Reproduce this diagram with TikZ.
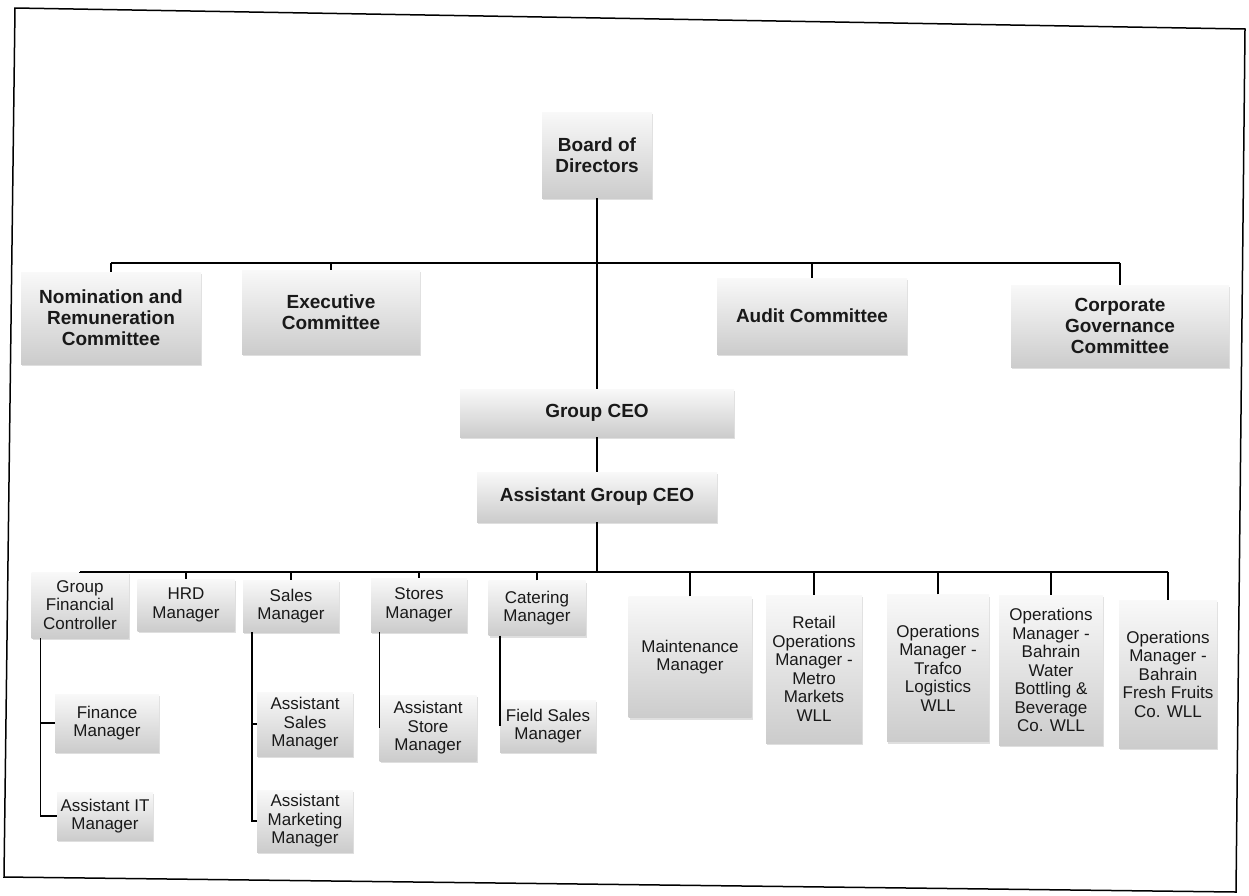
\documentclass[tikz,border=0pt]{standalone}
\usepackage{fontspec}
\setmainfont{Liberation Sans}
\usetikzlibrary{shadows, positioning}

\begin{document}
\begin{tikzpicture}[x=1pt, y=-1pt,
  box/.style={top color=gray!5, bottom color=gray!40, align=center, inner sep=2pt, text=black!90,
    drop shadow={opacity=0.25, shadow xshift=1pt, shadow yshift=-2pt}},
  bigbox/.style={box, font=\fontsize{19}{21}\selectfont\bfseries},
  smallbox/.style={box, font=\fontsize{17}{18.5}\selectfont},
  link/.style={line width=1.4pt},
  bus/.style={line width=2pt}]
\useasboundingbox (0,0) rectangle (1249,895);
\draw[line width=1.5pt] (15,8) -- (1245,29) -- (1236,892) -- (4,877) -- cycle;

% board and committees
\node[bigbox, minimum width=110, minimum height=86] (bod) at (597,155) {Board of\\Directors};
\node[bigbox, minimum width=180, minimum height=92] (nrc) at (111,318) {Nomination and\\Remuneration\\Committee};
\node[bigbox, minimum width=178, minimum height=84] (exc) at (331,312) {Executive\\Committee};
\node[bigbox, minimum width=190, minimum height=76] (aud) at (812,316) {Audit Committee};
\node[bigbox, minimum width=218, minimum height=82] (cgc) at (1120,326) {Corporate\\Governance\\Committee};
\node[bigbox, minimum width=274, minimum height=48] (ceo) at (597,413) {Group CEO};
\node[bigbox, minimum width=240, minimum height=50] (agc) at (597,497) {Assistant Group CEO};
\coordinate (top) at (597,263);
\coordinate (low) at (597,572);

% managers
\node[smallbox, minimum width=97, minimum height=66] (gfc) at (80,605) {Group\\Financial\\Controller};
\node[smallbox, minimum width=97, minimum height=52] (hrd) at (186,605) {HRD\\Manager};
\node[smallbox, minimum width=96, minimum height=52] (sal) at (291,606) {Sales\\Manager};
\node[smallbox, minimum width=96, minimum height=54] (sto) at (419,605) {Stores\\Manager};
\node[smallbox, minimum width=97, minimum height=55] (cat) at (537,608) {Catering\\Manager};
\node[smallbox, minimum width=123, minimum height=121] (mnt) at (690,657) {Maintenance\\Manager};
\node[smallbox, minimum width=96, minimum height=148] (ret) at (814,669) {Retail\\Operations\\Manager -\\Metro\\Markets\\WLL};
\node[smallbox, minimum width=102, minimum height=147] (trf) at (938,668) {Operations\\Manager -\\Trafco\\Logistics\\WLL};
\node[smallbox, minimum width=104, minimum height=150] (bwb) at (1051,670) {Operations\\Manager -\\Bahrain\\Water\\Bottling \&\\Beverage\\Co. WLL};
\node[smallbox, minimum width=98, minimum height=148] (bff) at (1168,674) {Operations\\Manager -\\Bahrain\\Fresh Fruits\\Co. WLL};

% assistants
\node[smallbox, minimum width=104, minimum height=58] (fin) at (107,723) {Finance\\Manager};
\node[smallbox, minimum width=96, minimum height=48] (ait) at (105,816) {Assistant IT\\Manager};
\node[smallbox, minimum width=96, minimum height=64] (asl) at (305,724) {Assistant\\Sales\\Manager};
\node[smallbox, minimum width=96, minimum height=62] (amk) at (305,821) {Assistant\\Marketing\\Manager};
\node[smallbox, minimum width=97, minimum height=66] (ast) at (428,728) {Assistant\\Store\\Manager};
\node[smallbox, minimum width=96, minimum height=52] (fsm) at (548,726) {Field Sales\\Manager};

% connectors
\draw[link] (bod) -- (ceo);
\draw[link] (nrc.north |- top) -- (cgc.north |- top);
\foreach \n in {nrc,exc,aud,cgc}
  \draw[link] (\n.north) -- (\n.north |- top);
\draw[link] (ceo) -- (agc);
\draw[link] (agc.south) -- (low);
\draw[bus] (gfc.north |- low) -- (bff.north |- low);
\foreach \n in {gfc,hrd,sal,sto,cat,mnt,ret,trf,bwb,bff}
  \draw[link] (\n.north) -- (\n.north |- low);
\draw[link] (fin.west) -| ([xshift=9pt]gfc.south west);
\draw[link] (ait.west) -| ([xshift=9pt]gfc.south west);
\draw[link] (asl.west) -| ([xshift=9pt]sal.south west);
\draw[link] (amk.west) -| ([xshift=9pt]sal.south west);
\draw[link] (sto.south -| ast.west) -- (ast.west);
\draw[link] (cat.south -| fsm.west) -- (fsm.west);
\end{tikzpicture}
\end{document}
